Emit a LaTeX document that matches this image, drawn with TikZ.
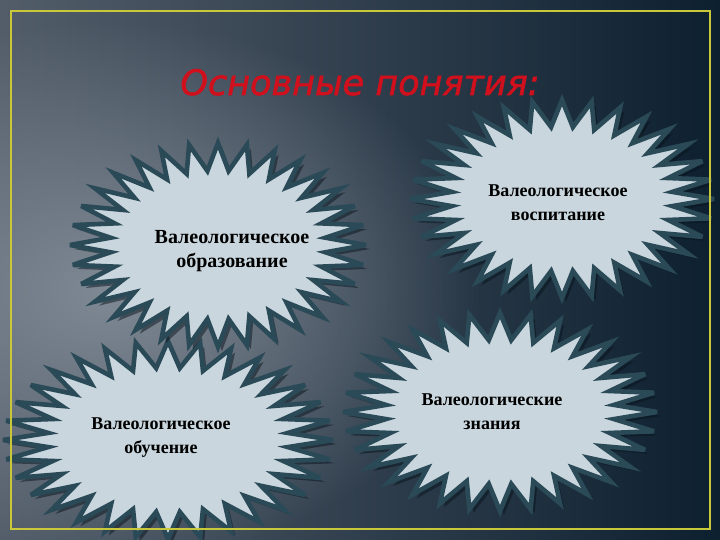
\documentclass[tikz,border=0pt]{standalone}
\usepackage{fontspec}
\usetikzlibrary{fadings}
\setmainfont{Liberation Serif}
\newfontfamily\titlefont{DejaVu Sans}[FakeBold=1.6]

\definecolor{bgleft}{HTML}{535D6A}
\definecolor{bgmid}{HTML}{34404D}
\definecolor{bgdark}{HTML}{0D2030}
\definecolor{bgglow}{HTML}{808A95}
\definecolor{starfill}{HTML}{C9D6DD}
\definecolor{starline}{HTML}{2B4A58}
\definecolor{starshade}{HTML}{08141C}
\definecolor{framecol}{HTML}{C8C83A}
\definecolor{titlered}{HTML}{D0101C}

\tikzfading[name=glowfade, inner color=transparent!0, outer color=transparent!100]

\tikzset{
  starbody/.style={fill=starfill, draw=starline, line width=4.6pt, line join=miter, miter limit=5},
  starshadow/.style={fill=starshade, opacity=0.5},
  valtext/.style={align=center, font=\bfseries\fontsize{18}{24}\selectfont, text=black},
  titletext/.style={font=\titlefont\itshape\fontsize{35}{40}\selectfont, text=titlered},
}

% star: centre x, centre y, radius x, radius y
\newcommand{\valstar}[4]{%
  \fill[starshadow] plot[samples at={0,...,63}, variable=\t]
    ({#1+4+#3*(1-0.27*mod(\t,2))*cos(90+\t*5.625)}, {#2+4+#4*(1-0.27*mod(\t,2))*sin(90+\t*5.625)}) -- cycle;
  \draw[starbody] plot[samples at={0,...,63}, variable=\t]
    ({#1+#3*(1-0.27*mod(\t,2))*cos(90+\t*5.625)}, {#2+#4*(1-0.27*mod(\t,2))*sin(90+\t*5.625)}) -- cycle;
}

\begin{document}
\begin{tikzpicture}[x=1pt, y=-1pt]
\useasboundingbox (0,0) rectangle (720,540);
\clip (0,0) rectangle (720,540);
\shade[left color=bgleft, middle color=bgmid, right color=bgdark] (0,0) rectangle (720,540);
\fill[bgglow, path fading=glowfade] (110,290) ellipse [x radius=370, y radius=270];

\node[titletext, anchor=base] (title) at (360,95) {Основные понятия:};

% Stars
\valstar{562}{199}{152}{99}   % vospitanie
\valstar{500}{412}{157}{99}   % znaniya
\valstar{168}{440}{165}{99}   % obuchenie
\valstar{218}{245}{148}{102}  % obrazovanie

\node[valtext, font=\bfseries\fontsize{20}{24}\selectfont] (obraz) at (232,251) {Валеологическое\\образование};
\node[valtext] (vosp)  at (558,203) {Валеологическое\\воспитание};
\node[valtext] (obuch) at (161,438) {Валеологическое\\обучение};
\node[valtext] (znan)  at (492,412) {Валеологические\\знания};

% Frame
\draw[framecol, line width=1.6pt] (11,11) rectangle (710,529);
\end{tikzpicture}
\end{document}
